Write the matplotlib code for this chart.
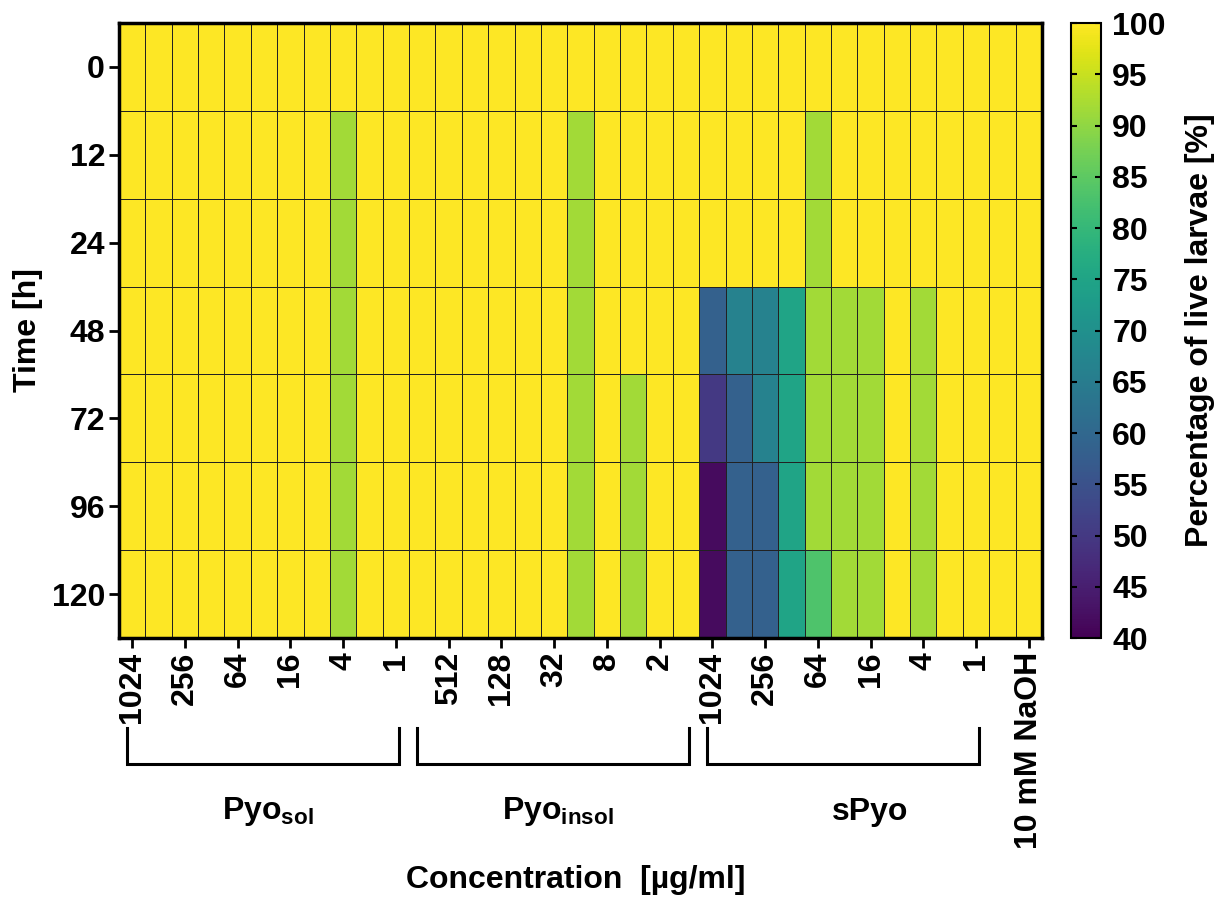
import numpy as np
import matplotlib as mpl
mpl.use('Agg')
mpl.rcParams['font.family'] = 'Liberation Sans'
mpl.rcParams['font.weight'] = 'bold'
mpl.rcParams['font.size'] = 23
mpl.rcParams['axes.linewidth'] = 2.5
mpl.rcParams['mathtext.fontset'] = 'custom'
mpl.rcParams['mathtext.rm'] = 'Liberation Sans:bold'
mpl.rcParams['mathtext.bf'] = 'Liberation Sans:bold'
mpl.rcParams['mathtext.it'] = 'Liberation Sans:bold'
mpl.rcParams['mathtext.default'] = 'rm'
import matplotlib.pyplot as plt
import matplotlib.transforms as mtransforms
from matplotlib.lines import Line2D
#===========================================================================
# data : percentage of live larvae
times = ['0', '12', '24', '48', '72', '96', '120']
conc = ['1024', '512', '256', '128', '64', '32', '16', '8', '4', '2', '1']
groups = ['Pyo$_{sol}$', 'Pyo$_{insol}$', 'sPyo']
ctrl_labels = ['', '10 mM NaOH']

pyo_sol = [
    [100, 100, 100, 100, 100, 100, 100, 100, 100.0, 100, 100],
    [100, 100, 100, 100, 100, 100, 100, 100, 91.7, 100, 100],
    [100, 100, 100, 100, 100, 100, 100, 100, 91.7, 100, 100],
    [100, 100, 100, 100, 100, 100, 100, 100, 91.7, 100, 100],
    [100, 100, 100, 100, 100, 100, 100, 100, 91.7, 100, 100],
    [100, 100, 100, 100, 100, 100, 100, 100, 91.7, 100, 100],
    [100, 100, 100, 100, 100, 100, 100, 100, 91.7, 100, 100],
]
pyo_insol = [
    [100, 100, 100, 100, 100, 100, 100.0, 100, 100.0, 100, 100],
    [100, 100, 100, 100, 100, 100, 91.7, 100, 100.0, 100, 100],
    [100, 100, 100, 100, 100, 100, 91.7, 100, 100.0, 100, 100],
    [100, 100, 100, 100, 100, 100, 91.7, 100, 100.0, 100, 100],
    [100, 100, 100, 100, 100, 100, 91.7, 100, 91.7, 100, 100],
    [100, 100, 100, 100, 100, 100, 91.7, 100, 91.7, 100, 100],
    [100, 100, 100, 100, 100, 100, 91.7, 100, 91.7, 100, 100],
]
spyo = [
    [100.0, 100.0, 100.0, 100, 100.0, 100.0, 100.0, 100, 100.0, 100, 100],
    [100.0, 100.0, 100.0, 100, 91.7, 100.0, 100.0, 100, 100.0, 100, 100],
    [100.0, 100.0, 100.0, 100, 91.7, 100.0, 100.0, 100, 100.0, 100, 100],
    [58.3, 66.7, 66.7, 75, 91.7, 91.7, 91.7, 100, 91.7, 100, 100],
    [50.0, 58.3, 66.7, 75, 91.7, 91.7, 91.7, 100, 91.7, 100, 100],
    [41.7, 58.3, 58.3, 75, 91.7, 91.7, 91.7, 100, 91.7, 100, 100],
    [41.7, 58.3, 58.3, 75, 83.3, 91.7, 91.7, 100, 91.7, 100, 100],
]
ctrl = [
    [100, 100], [100, 100], [100, 100], [100, 100],
    [100, 100], [100, 100], [100, 100],
]
#===========================================================================
tab = np.hstack([np.array(pyo_sol), np.array(pyo_insol), np.array(spyo), np.array(ctrl)])
ncol = tab.shape[1]
nrow = tab.shape[0]
xlabels = conc + conc + conc + ctrl_labels
#
fig = plt.figure(figsize=(12.25, 9), dpi=100, facecolor='w')
ax = fig.add_axes([0.0971, 0.2911, 0.7535, 0.6833])
cax = fig.add_axes([0.8743, 0.2911, 0.0245, 0.6833])
#
pc = ax.pcolormesh(np.arange(ncol+1), np.arange(nrow+1), tab, cmap='viridis',
                   vmin=40, vmax=100, edgecolors='#222222', linewidth=0.55)
ax.set_xlim(0, ncol)
ax.set_ylim(nrow, 0)
#
ax.set_yticks(np.arange(nrow)+0.5)
ax.set_yticklabels(times)
xt = np.arange(0, ncol, 2)
ax.set_xticks(xt+0.5)
ax.set_xticklabels([xlabels[i] for i in xt], rotation=90)
ax.tick_params(direction='out', length=7, width=2, pad=3)
ax.set_ylabel('Time [h]', fontsize=23, fontweight='bold', labelpad=6)
#
# colorbar
cb = fig.colorbar(pc, cax=cax, ticks=np.arange(40, 101, 5))
cb.outline.set_linewidth(1.5)
cb.ax.tick_params(direction='in', length=4, width=1.5, left=True, right=True, pad=8)
cb.set_label('Percentage of live larvae [%]', fontsize=23, fontweight='bold', labelpad=14)
#
# brackets and group names under the x axis
trans = mtransforms.blended_transform_factory(ax.transData, fig.transFigure)
ybt = 1 - 728/900.
ybb = 1 - 764/900.
for ig, gname in enumerate(groups):
    x0 = ig*len(conc) + 0.3
    x1 = ig*len(conc) + len(conc) - 1 + 0.62
    ax.add_line(Line2D([x0, x0, x1, x1], [ybt, ybb, ybb, ybt], transform=trans,
                       color='black', lw=2.2, clip_on=False, solid_joinstyle='miter'))
xgrp = [5.65, 16.65, 28.5]
for ig, gname in enumerate(groups):
    ax.text(xgrp[ig], 1 - 812/900., gname, transform=trans, ha='center', va='center',
            fontsize=23, fontweight='bold')
#
fig.text(576/1225., 1 - 880/900., 'Concentration  [µg/ml]', ha='center', va='center',
         fontsize=23, fontweight='bold')
#
plt.savefig('out.png', dpi=100)
